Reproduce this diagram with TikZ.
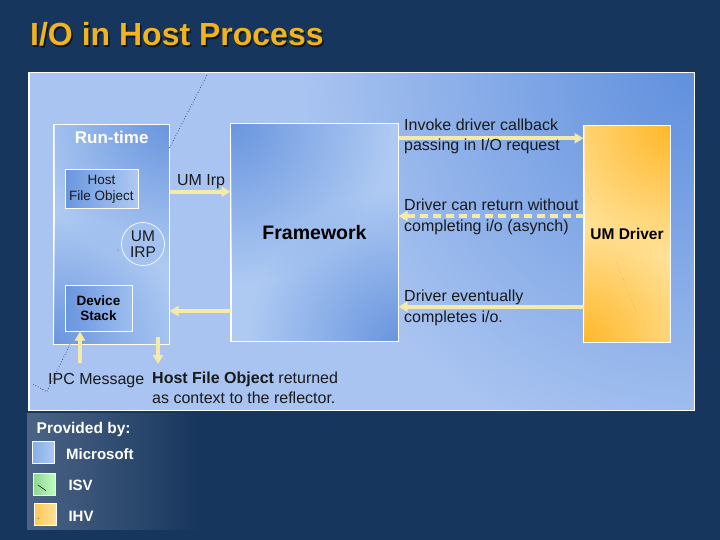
\documentclass[tikz,border=0pt]{standalone}
\usepackage{fontspec}
\setmainfont{Liberation Sans}
\usetikzlibrary{arrows.meta,calc,fadings}
\definecolor{bg}{HTML}{17365D}
\definecolor{titlecol}{HTML}{F2B41C}
\definecolor{plight}{HTML}{A9C4F1}
\definecolor{pdark}{HTML}{6090DE}
\definecolor{bdark}{HTML}{6A96DF}
\definecolor{blight}{HTML}{AECAF3}
\definecolor{odark}{HTML}{FFB82A}
\definecolor{olight}{HTML}{FFE299}
\definecolor{arrowcol}{HTML}{F5EAA8}
\definecolor{txt}{HTML}{1A1A1A}
\definecolor{dotcol}{HTML}{1F3C6E}
\definecolor{legl}{HTML}{4B6486}
\tikzfading[name=glowfade, inner color=transparent!0, outer color=transparent!100]
\tikzset{
  box/.style={draw=white, line width=1pt, inner sep=0pt},
  frame/.style={draw=white, line width=1pt},
  flow/.style={draw=arrowcol, line width=4pt, -{Triangle[length=9pt,width=10pt]}},
  dotline/.style={dotcol, line width=0.7pt, dotted},
  lbl/.style={text=txt, inner sep=0pt, font=\fontsize{16}{20.5}\selectfont, align=left, anchor=base west},
  legtxt/.style={text=white, inner sep=0pt, anchor=base west, font=\bfseries\fontsize{15}{16}\selectfont},
  legsq/.style={draw=white, line width=0.8pt, minimum size=22pt, inner sep=0pt},
  bglow/.style={fill=bdark, path fading=glowfade},
  oglow/.style={fill=odark, path fading=glowfade}
}
\begin{document}
\begin{tikzpicture}[x=1pt,y=-1pt]
\useasboundingbox (0,0) rectangle (720,540);
\fill[bg] (0,0) rectangle (720,540);
% title
\node[anchor=base west, inner sep=0pt, text=black!60!bg, font=\bfseries\fontsize{32}{32}\selectfont] at (31.5,47.5) {I/O in Host Process};
\node (title)[anchor=base west, inner sep=0pt, text=titlecol, font=\bfseries\fontsize{32}{32}\selectfont] at (30,46) {I/O in Host Process};
% legend panel
\shade[left color=legl, right color=bg] (27,413) rectangle (200,529);
% main panel
\node (panel)[box, fill=plight, minimum width=665pt, minimum height=337pt] at (361.5,241.5) {};
\begin{scope}
  \clip (panel.north west) rectangle (panel.south east);
  \fill[fill=pdark, path fading=glowfade] (panel.north east) circle (390pt);
\end{scope}
\draw[frame] (panel.north west) rectangle (panel.south east);
% run-time box
\node (rt)[box, fill=blight, minimum width=115pt, minimum height=219pt] at (111.5,234.5) {};
\begin{scope}
  \clip (rt.north west) rectangle (rt.south east);
  \fill[bglow] (rt.north east) circle (140pt);
  \fill[bglow] (rt.south west) circle (130pt);
\end{scope}
\draw[frame] (rt.north west) rectangle (rt.south east);
\coordinate (d1) at (207,75);
\draw[dotline] (rt.east |- 0,148) -- (d1);
\coordinate (d2) at (46.7,391.7);
\coordinate (d3) at (31.7,383.3);
\draw[dotline] (rt.south -| 70,0) -- (d2) -- (d3);
\node (rtlabel)[anchor=base, inner sep=0pt, text=white, font=\bfseries\fontsize{17}{17}\selectfont] at (111.7,143.3) {Run-time};
\node (hfo)[box, left color=bdark, right color=blight, minimum width=73pt, minimum height=39pt, align=center, font=\fontsize{13.5}{16.3}\selectfont, text=txt] at (101.5,189.5) {Host\\File Object};
\node (ds)[box, left color=bdark, middle color=blight, right color=blight!75!bdark, minimum width=67pt, minimum height=46pt, align=center, font=\bfseries\fontsize{13.5}{15}\selectfont, text=black] at (98.5,308) {Device\\Stack};
\node (irp)[circle, draw=white, line width=0.7pt, fill=blight!85!bdark, minimum size=43pt, inner sep=0pt, align=center, font=\fontsize{15.5}{16.5}\selectfont, text=txt] at (143,244) {UM\\IRP};
\fill[dotcol] (118,250) circle (0.5pt);
% framework
\node (fw)[box, fill=blight, minimum width=167pt, minimum height=217pt] at (314.5,232.5) {};
\begin{scope}
  \clip (fw.north west) rectangle (fw.south east);
  \fill[bglow] (fw.north west) circle (160pt);
  \fill[bglow] (fw.south east) circle (150pt);
\end{scope}
\draw[frame] (fw.north west) rectangle (fw.south east);
\node (fwtext)[inner sep=0pt, font=\bfseries\fontsize{19.5}{20}\selectfont, text=black] at (fw.center) {Framework};
% UM driver
\node (drv)[box, fill=olight, minimum width=86pt, minimum height=216pt] at (627,234) {};
\begin{scope}
  \clip (drv.north west) rectangle (drv.south east);
  \fill[oglow] (drv.north east) circle (130pt);
  \fill[oglow] (drv.south west) circle (120pt);
\end{scope}
\draw[frame] (drv.north west) rectangle (drv.south east);
\node (drvtext)[inner sep=0pt, font=\bfseries\fontsize{15.5}{16}\selectfont, text=black] at (drv.center) {UM Driver};
\draw[odark!50!black, opacity=0.35, line width=0.5pt, dotted] (586.7,186.7) -- (593,203);
\draw[odark!50!black, opacity=0.35, line width=0.5pt, dotted] (616.7,263) -- (636.7,313);
% arrows
\draw[flow] (rt.east |- 0,191.7) -- (fw.west |- 0,191.7);
\node (umirp)[lbl, anchor=base] at (201,186) {UM Irp};
\draw[flow] (fw.west |- 0,311) -- (rt.east |- 0,311);
\draw[flow] (fw.east |- 0,138.3) -- (drv.west |- 0,138.3);
\draw[flow, dash pattern=on 8pt off 5pt] (drv.west |- 0,216) -- (fw.east |- 0,216);
\draw[flow] (drv.west |- 0,306.7) -- (fw.east |- 0,306.7);
\coordinate (upstart) at (80,363);
\draw[flow] (upstart) -- (ds.south -| upstart);
\coordinate (downend) at (158,364);
\draw[flow] ($(rt.south -| downend)+(0,-8)$) -- (downend);
% labels (base anchor = last line)
\node (l1)[lbl] at (404,151) {Invoke driver callback\\passing in I/O request};
\node (l2)[lbl] at (404,231) {Driver can return without\\completing i/o (asynch)};
\node (l3)[lbl] at (404,322) {Driver eventually\\completes i/o.};
\node (ipc)[lbl] at (48,384.5) {IPC Message};
\node (ret)[lbl, font=\fontsize{16}{20}\selectfont] at (152,403.5) {\textbf{Host File Object} returned\\as context to the reflector.};
% legend
\node (prov)[legtxt, font=\bfseries\fontsize{15.5}{16}\selectfont] at (36.5,433.3) {Provided by:};
\node (sqms)[legsq, left color=bdark!55!blight, right color=blight] at (43.7,452.8) {};
\node (sqisv)[legsq, left color=green!45!gray!60!white, right color=green!25!white] at (44.5,484.5) {};
\draw[black, line width=0.5pt] (38,485) -- (46,490.7);
\node (sqihv)[legsq, left color=odark!80!white, right color=olight] at (45,514.3) {};
\fill[black] (38.3,518.3) circle (0.4pt);
\node (lms)[legtxt] at (66,459.3) {Microsoft};
\node (lisv)[legtxt] at (68.3,490.7) {ISV};
\node (lihv)[legtxt] at (68.3,521.7) {IHV};
\end{tikzpicture}
\end{document}
